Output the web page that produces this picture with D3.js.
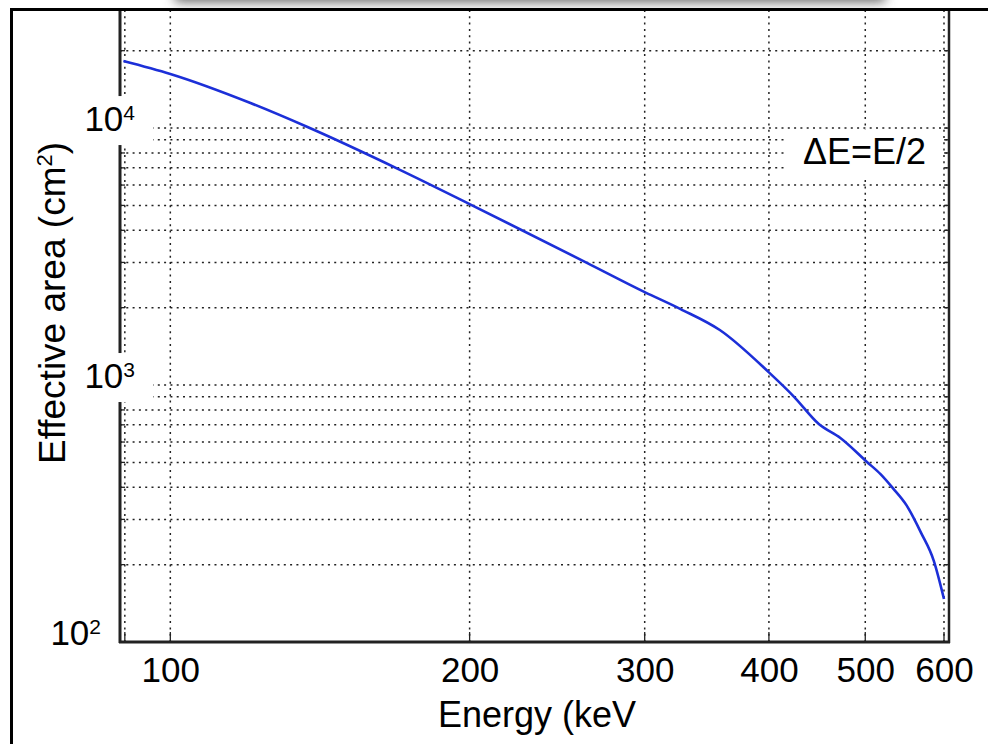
<!DOCTYPE html>
<html>
<head>
<meta charset="utf-8">
<script src="https://cdn.jsdelivr.net/npm/d3@7"></script>
<style>
body { margin: 0; background: #fff; }
svg { display: block; font-family: "Liberation Sans", Arial, sans-serif; }
</style>
</head>
<body>
<div id="chart"></div>
<script>
// effective area vs energy
const energy = [89.7, 100, 120.4, 137.4, 170.4, 200, 262.7, 300, 326, 357, 400, 424, 449, 472, 502, 518, 533, 550, 569, 586, 600];
const area = [18230, 16230, 12510, 10090, 6860, 5060, 2983, 2300, 1975, 1637, 1120, 900, 705, 622, 502, 450, 397, 341, 266, 207, 147];

const xTicks = [100, 200, 300, 400, 500, 600];
const xGrid = [90, 100, 200, 300, 400, 500, 600];
const yTicks = [100, 1000, 10000];
const yTickExp = ["2", "3", "4"];
const yGrid = [200, 300, 400, 500, 600, 700, 800, 900, 1000, 2000, 3000, 4000, 5000, 6000, 7000, 8000, 9000, 10000, 20000];

const width = 988, height = 744;
const pLeft = 120, pRight = 949, pTop = 10, pBottom = 642;

const svg = d3.select("#chart").append("svg")
    .attr("width", width)
    .attr("height", height);

// soft shadow along the top edge
const defs = svg.append("defs");
defs.append("filter").attr("id", "blur")
    .attr("x", "-20%").attr("y", "-200%").attr("width", "140%").attr("height", "500%")
    .append("feGaussianBlur").attr("stdDeviation", 6);
svg.append("rect")
    .attr("x", 175).attr("y", -14).attr("width", 710).attr("height", 16)
    .attr("fill", "#666")
    .attr("filter", "url(#blur)");
svg.append("rect").attr("x", 0).attr("y", 8).attr("width", width).attr("height", height)
    .attr("fill", "#fff");

const x = d3.scaleLog().domain([89, 607]).range([pLeft, pRight]);
const y = d3.scaleLog().domain([100, 28800]).range([pBottom, pTop]);

// grid
const grid = svg.append("g")
    .attr("stroke", "#222")
    .attr("stroke-width", 1.5)
    .attr("stroke-dasharray", "2,4.3");
grid.selectAll(".hg").data(yGrid).enter().append("line")
    .attr("x1", pLeft).attr("x2", pRight)
    .attr("y1", d => y(d)).attr("y2", d => y(d));
grid.selectAll(".vg").data(xGrid).enter().append("line")
    .attr("x1", d => x(d)).attr("x2", d => x(d))
    .attr("y1", pTop).attr("y2", pBottom);

// small inward ticks on left/right/bottom
const ticks = svg.append("g").attr("stroke", "#222").attr("stroke-width", 1.3);
ticks.selectAll(".tl").data(yGrid).enter().append("line")
    .attr("x1", pLeft).attr("x2", pLeft + 5)
    .attr("y1", d => y(d)).attr("y2", d => y(d));
ticks.selectAll(".tr").data(yGrid).enter().append("line")
    .attr("x1", pRight - 5).attr("x2", pRight)
    .attr("y1", d => y(d)).attr("y2", d => y(d));
ticks.selectAll(".tb").data(xGrid).enter().append("line")
    .attr("x1", d => x(d)).attr("x2", d => x(d))
    .attr("y1", pBottom - 10).attr("y2", pBottom);

// curve
const line = d3.line()
    .x((d, i) => x(energy[i]))
    .y((d, i) => y(area[i]))
    .curve(d3.curveMonotoneX);
svg.append("path")
    .datum(area)
    .attr("d", line)
    .attr("fill", "none")
    .attr("stroke", "#1c2fd8")
    .attr("stroke-width", 2.6);

// axes frame
svg.append("line").attr("x1", pLeft).attr("x2", pLeft).attr("y1", pTop).attr("y2", pBottom + 1)
    .attr("stroke", "#222").attr("stroke-width", 3);
svg.append("line").attr("x1", pLeft - 1).attr("x2", pRight + 1).attr("y1", pBottom).attr("y2", pBottom)
    .attr("stroke", "#222").attr("stroke-width", 3);
svg.append("line").attr("x1", pRight).attr("x2", pRight).attr("y1", pTop).attr("y2", pBottom + 1)
    .attr("stroke", "#222").attr("stroke-width", 2.5);

// outer border (left + top)
svg.append("line").attr("x1", 11.5).attr("x2", 11.5).attr("y1", 9).attr("y2", height)
    .attr("stroke", "#000").attr("stroke-width", 3);
svg.append("line").attr("x1", 10).attr("x2", width).attr("y1", 9.5).attr("y2", 9.5)
    .attr("stroke", "#000").attr("stroke-width", 3);

// x tick labels
const xAxis = svg.append("g")
    .attr("transform", `translate(0,${pBottom})`)
    .call(d3.axisBottom(x).tickValues(xTicks).tickFormat(d3.format("d")).tickSize(0));
xAxis.select(".domain").remove();
xAxis.selectAll("text")
    .attr("y", 40).attr("dy", 0)
    .attr("font-size", 35)
    .attr("font-family", "Liberation Sans, Arial, sans-serif")
    .attr("fill", "#000");

// y tick labels (10^n) with white boxes inside the plot
yTicks.forEach((v, i) => {
    const yb = y(v) + 3;
    const xe = i === 0 ? 101 : 135;
    if (i > 0) {
        svg.append("rect")
            .attr("x", 77).attr("y", yb - 35)
            .attr("width", 76).attr("height", 49)
            .attr("fill", "#fff");
    }
    const t = svg.append("text")
        .attr("x", xe).attr("y", yb)
        .attr("text-anchor", "end")
        .attr("font-size", 35)
        .attr("fill", "#000");
    t.append("tspan").text("10");
    t.append("tspan").attr("font-size", 21).attr("dy", -11).text(yTickExp[i]);
});

// annotation
svg.append("rect").attr("x", 787).attr("y", 130).attr("width", 154).attr("height", 48)
    .attr("fill", "#fff");
svg.append("text")
    .attr("x", 803).attr("y", 164)
    .attr("font-size", 36)
    .attr("fill", "#000")
    .text("ΔE=E/2");

// axis titles
svg.append("text")
    .attr("x", 537).attr("y", 727)
    .attr("text-anchor", "middle")
    .attr("font-size", 36)
    .attr("fill", "#000")
    .text("Energy (keV");

const yl = svg.append("text")
    .attr("transform", "translate(65,303) rotate(-90)")
    .attr("text-anchor", "middle")
    .attr("font-size", 37)
    .attr("fill", "#000");
yl.append("tspan").text("Effective area (cm");
yl.append("tspan").attr("font-size", 22).attr("dy", -13).text("2");
yl.append("tspan").attr("dy", 13).text(")");
</script>
</body>
</html>
